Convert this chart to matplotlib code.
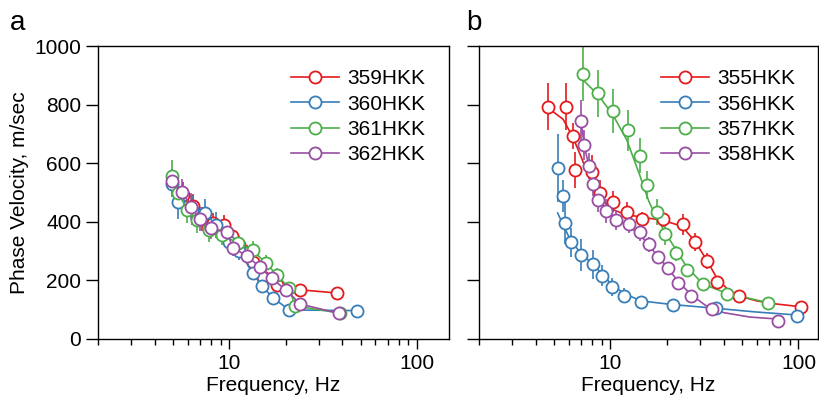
import matplotlib
matplotlib.use("Agg")
import matplotlib.pyplot as plt
from matplotlib.lines import Line2D
from matplotlib.ticker import LogLocator, NullFormatter, FixedLocator

plt.rcParams['font.family'] = ['Liberation Sans', 'DejaVu Sans']
plt.rcParams['font.size'] = 15

RED, BLUE, GREEN, PURPLE = '#E41A1C', '#377EB8', '#4DAF4A', '#984EA3'

# ---------------- panel a ----------------
a_names = ['359HKK', '360HKK', '361HKK', '362HKK']
f359 = [5.7, 6.4, 7.2, 8.2, 9.4, 10.3, 11.3, 12.4, 13.4, 15.1, 18.0, 23.7, 37.5]
v359 = [490, 455, 410, 395, 388, 350, 322, 295, 262, 213, 184, 168, 157]
e359 = [45, 40, 40, 35, 35, 30, 30, 25, 25, 20, 0, 0, 0]

f360 = [4.94, 5.36, 6.3, 7.45, 8.49, 10.0, 11.3, 13.3, 14.9, 17.2, 20.9, 47.8]
v360 = [528, 469, 440, 429, 389, 330, 300, 226, 181, 139, 99, 97]
e360 = [45, 60, 50, 50, 45, 35, 30, 25, 20, 0, 0, 0]

f361 = [4.94, 5.36, 5.99, 6.72, 7.82, 9.1, 11.2, 13.3, 15.6, 18.0, 20.9, 22.4, 39.1]
v361 = [556, 497, 440, 406, 372, 355, 327, 304, 260, 218, 173, 113, 88]
e361 = [55, 50, 45, 45, 40, 35, 30, 30, 25, 25, 0, 0, 0]

f362 = [4.94, 5.63, 6.24, 6.98, 7.98, 9.67, 10.5, 12.4, 14.5, 16.8, 20.1, 23.9, 38.2]
v362 = [539, 501, 452, 410, 378, 364, 312, 283, 247, 207, 167, 119, 88]
e362 = [40, 45, 45, 40, 35, 30, 30, 25, 20, 0, 0, 0, 0]

# ---------------- panel b ----------------
b_names = ['355HKK', '356HKK', '357HKK', '358HKK']
f355 = [4.63, 5.78, 6.32, 6.45, 8.02, 8.77, 10.3, 12.2, 14.8, 19.1, 24.4, 28.1, 32.5, 37.0, 48.4, 103]
v355 = [793, 793, 693, 577, 569, 499, 469, 434, 410, 408, 391, 332, 267, 196, 147, 110]
e355 = [80, 80, 45, 60, 60, 45, 35, 35, 25, 25, 37, 30, 27, 0, 0, 0]
cf355 = [4.63, 5.6, 6.3, 7.0, 7.6, 8.3, 9.2, 10.0, 12, 15, 19, 24, 28, 32.5, 37, 42, 48, 60, 75, 103]
cv355 = [790, 750, 690, 620, 560, 510, 470, 445, 425, 415, 405, 385, 335, 270, 205, 170, 147, 130, 120, 110]

f356 = [5.24, 5.57, 5.76, 6.14, 6.95, 8.08, 9.06, 10.2, 11.8, 14.6, 21.4, 36.4, 97.9]
v356 = [584, 488, 395, 330, 287, 255, 216, 178, 148, 125, 116, 105, 80]
e356 = [115, 55, 70, 50, 55, 50, 35, 30, 25, 20, 20, 15, 0]
cf356 = [5.24, 5.6, 6.1, 7.0, 8.0, 9.0, 10.2, 11.8, 14.6, 21, 36, 60, 98]
cv356 = [430, 390, 340, 290, 258, 222, 185, 155, 130, 118, 105, 92, 82]

f357 = [7.15, 8.59, 10.3, 12.4, 14.3, 15.7, 17.6, 19.6, 22.2, 25.4, 31.1, 41.5, 69.1]
v357 = [903, 839, 778, 713, 625, 526, 434, 357, 292, 235, 188, 154, 124]
e357 = [92, 80, 75, 70, 60, 48, 45, 37, 25, 15, 0, 0, 0]
cf357 = [7.15, 8.6, 10.3, 12.2, 14.3, 16.0, 17.6, 20.7, 25.4, 31.0, 41.5, 69]
cv357 = [884, 833, 765, 680, 560, 470, 413, 338, 247, 188, 156, 124]

f358 = [7.0, 7.23, 7.69, 8.08, 8.59, 9.52, 10.7, 12.5, 14.4, 16.0, 17.9, 20.3, 22.9, 26.8, 34.5, 78.1]
v358 = [744, 662, 591, 528, 474, 437, 406, 391, 366, 323, 281, 241, 192, 147, 101, 62]
e358 = [70, 50, 45, 40, 40, 40, 35, 30, 30, 25, 20, 20, 10, 0, 0, 0]
cf358 = [7.0, 7.3, 7.7, 8.1, 8.6, 9.5, 10.7, 12.5, 14.4, 16, 18, 20.3, 23, 27, 32, 40, 55, 78]
cv358 = [735, 650, 590, 530, 480, 440, 410, 385, 355, 320, 280, 240, 195, 150, 115, 90, 75, 68]

yticks = [0, 200, 400, 600, 800, 1000]

W, H = 820, 403
fig = plt.figure(figsize=(W / 100, H / 100), dpi=100)
axa = fig.add_axes([98 / W, 1 - 339 / H, (449 - 98) / W, (339 - 46) / H])
axb = fig.add_axes([479 / W, 1 - 339 / H, (818 - 479) / W, (339 - 46) / H])

MS = 8.7
MEW = 1.3
LW = 1.2

def style(ax, xlim, ylabels=True):
    ax.set_xscale('log')
    ax.set_xlim(*xlim)
    ax.set_ylim(0, 1000)
    ax.yaxis.set_major_locator(FixedLocator(yticks))
    ax.xaxis.set_major_locator(FixedLocator([10, 100]))
    ax.xaxis.set_major_formatter(plt.FuncFormatter(lambda v, p: f'{v:g}'))
    ax.xaxis.set_minor_locator(LogLocator(base=10, subs=range(2, 10)))
    ax.xaxis.set_minor_formatter(NullFormatter())
    ax.tick_params(axis='x', which='major', length=7, width=1.0, direction='out', pad=4)
    ax.tick_params(axis='x', which='minor', length=4.5, width=1.0, direction='out')
    ax.tick_params(axis='y', which='major', length=9, width=1.0, direction='out', pad=3)
    if not ylabels:
        ax.set_yticklabels([])
    for s in ax.spines.values():
        s.set_linewidth(1.0)
    ax.set_xlabel('Frequency, Hz', labelpad=2)

style(axa, (2, 148))
style(axb, (2, 127), ylabels=False)
axa.set_ylabel('Phase Velocity, m/sec', labelpad=4)

a_data = [(f359, v359, e359, RED), (f360, v360, e360, BLUE),
          (f361, v361, e361, GREEN), (f362, v362, e362, PURPLE)]
for f, v, e, c in a_data:
    axa.errorbar(f, v, yerr=e, fmt='-o', color=c, mfc='white', mec=c, ms=MS,
                 mew=MEW, lw=LW, elinewidth=1.2, capsize=0)

b_data = [(f355, v355, e355, cf355, cv355, RED), (f356, v356, e356, cf356, cv356, BLUE),
          (f357, v357, e357, cf357, cv357, GREEN), (f358, v358, e358, cf358, cv358, PURPLE)]
for f, v, e, cf, cv, c in b_data:
    axb.plot(cf, cv, '-', color=c, lw=LW)
    axb.errorbar(f, v, yerr=e, fmt='o', color=c, mfc='white', mec=c, ms=MS,
                 mew=MEW, elinewidth=1.2, capsize=0)

def legend(ax, names):
    cols = [RED, BLUE, GREEN, PURPLE]
    handles = [Line2D([], [], color=c, lw=LW, marker='o', mfc='white', mec=c, ms=MS, mew=MEW)
               for c in cols]
    ax.legend(handles, names, loc='upper right', frameon=False, handlelength=2.3,
              labelspacing=0.3, handletextpad=0.4, borderaxespad=0.3,
              bbox_to_anchor=(0.975, 0.97))

legend(axa, a_names)
legend(axb, b_names)

fig.text(10 / W, 1 - 30 / H, 'a', fontsize=20)
fig.text(466 / W, 1 - 30 / H, 'b', fontsize=20)

fig.savefig('out.png', dpi=100)
